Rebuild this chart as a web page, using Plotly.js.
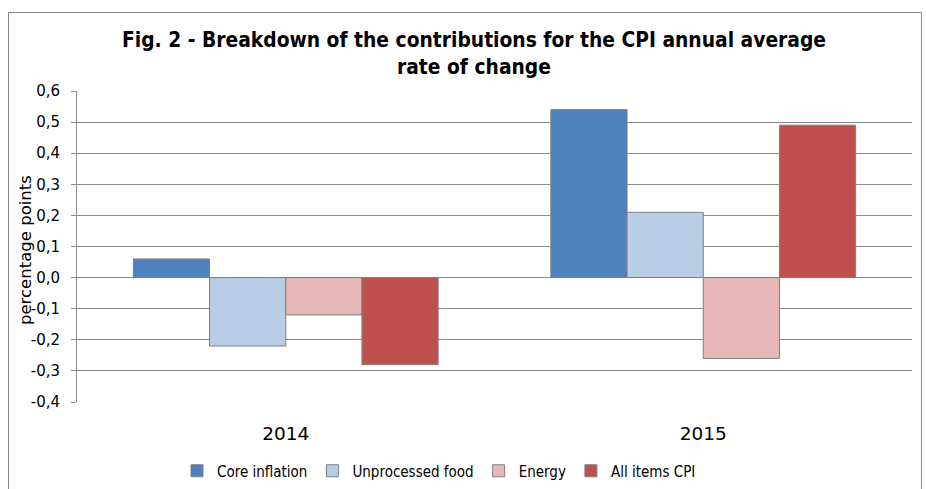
<!DOCTYPE html>
<html>
<head>
<meta charset="utf-8">
<script src="https://cdn.plot.ly/plotly-3.0.1.min.js"></script>
<style>
html,body{margin:0;padding:0;background:#fff;}
#wrap{position:relative;width:926px;height:489px;overflow:hidden;}
#chart{width:926px;height:489px;}
#frame{position:absolute;left:8px;top:12px;width:912px;height:500px;border:1px solid #868686;pointer-events:none;}
</style>
</head>
<body>
<div id="wrap"><div id="chart"></div><div id="frame"></div></div>
<script>
const categories = ["2014", "2015"];
const seriesNames = ["Core inflation", "Unprocessed food", "Energy", "All items CPI"];
const coreInflation = [0.06, 0.54];
const unprocessedFood = [-0.22, 0.21];
const energy = [-0.12, -0.26];
const allItemsCPI = [-0.28, 0.49];
const yTickVals = [-0.4, -0.3, -0.2, -0.1, 0.0, 0.1, 0.2, 0.3, 0.4, 0.5, 0.6];
const yTickText = ["-0,4", "-0,3", "-0,2", "-0,1", "0,0", "0,1", "0,2", "0,3", "0,4", "0,5", "0,6"];
const yTitle = "percentage points";

const colors = ["#4F81BD", "#B9CDE5", "#E6B9B8", "#C0504D"];
const values = [coreInflation, unprocessedFood, energy, allItemsCPI];
const font = "'DejaVu Sans', sans-serif";
const fontC = "'DejaVu Sans Condensed', 'DejaVu Sans', sans-serif";

const traces = values.map((v, i) => ({
  type: "bar",
  name: seriesNames[i],
  x: categories,
  y: v,
  marker: {color: colors[i], line: {color: "#7F7F7F", width: 1}},
  hoverinfo: "none"
}));

const layout = {
  width: 926, height: 489,
  margin: {l: 77, r: 14, t: 91, b: 87},
  paper_bgcolor: "#fff", plot_bgcolor: "#fff",
  barmode: "group", bargap: 0.27, bargroupgap: 0,
  title: {
    text: "<b>Fig. 2 - Breakdown of the contributions for the CPI annual average<br>rate of change</b>",
    font: {family: fontC, size: 20.8, color: "#000"},
    x: 474/926, xref: "container", xanchor: "center",
    y: 1 - 47/489, yref: "container", yanchor: "top"
  },
  xaxis: {
    type: "category",
    showgrid: false, zeroline: false, showline: false,
    ticks: "", tickfont: {family: font, size: 18.5, color: "#000"},
    ticklabelstandoff: 18,
    automargin: false
  },
  yaxis: {
    range: [-0.4, 0.6],
    tickvals: yTickVals, ticktext: yTickText,
    tickfont: {family: font, size: 15, color: "#000"},
    showgrid: true, gridcolor: "#8C8C8C", gridwidth: 1,
    zeroline: true, zerolinecolor: "#8C8C8C", zerolinewidth: 1,
    showline: true, linecolor: "#8C8C8C", linewidth: 1,
    ticks: "outside", ticklen: 5, tickcolor: "#8C8C8C",
    ticklabelstandoff: 8,
    automargin: false
  },
  annotations: [{
    text: yTitle, textangle: -90, showarrow: false,
    xref: "paper", yref: "paper",
    x: (25 - 77) / 835, y: (402 - 250) / 311,
    xanchor: "center", yanchor: "middle",
    font: {family: font, size: 16.5, color: "#000"}
  }],
  showlegend: true,
  legend: {
    orientation: "h", x: 439 / 926, xref: "container", xanchor: "center",
    y: 1 - 471 / 489, yref: "container", yanchor: "middle",
    font: {family: fontC, size: 15, color: "#000"},
    traceorder: "normal"
  }
};

Plotly.newPlot("chart", traces, layout, {displayModeBar: false, staticPlot: true});
</script>
</body>
</html>
